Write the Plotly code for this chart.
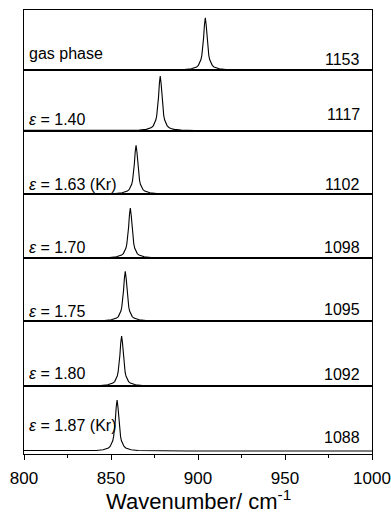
import plotly.graph_objects as go

# ---- data ----
PEAK_CENTRES = [904.2, 878.3, 864.4, 861.1, 858.2, 856.1, 853.5]   # cm-1
PEAK_HEIGHTS = [0.87, 0.90, 0.77, 0.78, 0.79, 0.77, 0.785]          # fraction of panel
LEFT_LABELS = ["gas phase", "<i>ε</i> = 1.40", "<i>ε</i> = 1.63 (Kr)", "<i>ε</i> = 1.70",
               "<i>ε</i> = 1.75", "<i>ε</i> = 1.80", "<i>ε</i> = 1.87 (Kr)"]
RIGHT_LABELS = ["1153", "1117", "1102", "1098", "1095", "1092", "1088"]
# band profile (offset from centre in cm-1, relative intensity)
PROFILE_OFFSET = [-200, -40, -20, -12, -8, -6, -5, -4, -3, -2.5, -2, -1.5, -1, -0.5, 0,
                  0.5, 1, 1.5, 2, 2.5, 3, 4, 5, 6, 8, 12, 20, 40, 200]
PROFILE_SHAPE = [0.0, 0.001, 0.004, 0.011, 0.024, 0.042, 0.059, 0.089, 0.148, 0.20, 0.281,
                 0.41, 0.61, 0.862, 1.0, 0.862, 0.61, 0.41, 0.281, 0.20, 0.148, 0.089,
                 0.059, 0.042, 0.024, 0.011, 0.004, 0.001, 0.0]
X_TICKS = [800, 850, 900, 950, 1000]

# ---- layout constants (pixels) ----
W, H = 391, 514
ML, MR, MT, MB = 24, 19, 10, 60
PLOT_H = H - MT - MB
PLOT_W = W - ML - MR
PANEL_EDGES = [10, 70, 130.7, 194, 258, 321, 386, 454]
LEFT_Y = [54, 119.3, 184.3, 247, 311, 373.3, 425]
RIGHT_Y = [59.3, 114.3, 184.3, 247.3, 309.3, 374.3, 437.3]
FONT = "Arial, Liberation Sans, Helvetica, sans-serif"


def py(pix):
    return (H - MB - pix) / PLOT_H


def px(pix):
    return (pix - ML) / PLOT_W


n = len(PEAK_CENTRES)
fig = go.Figure()
layout = dict(
    width=W, height=H, autosize=False,
    margin=dict(l=ML, r=MR, t=MT, b=MB, autoexpand=False),
    paper_bgcolor="white", plot_bgcolor="white",
    showlegend=False,
    font=dict(family=FONT, color="black", size=16),
)

for i in range(n):
    xs = [PEAK_CENTRES[i] + o for o in PROFILE_OFFSET]
    ys = [PEAK_HEIGHTS[i] * s for s in PROFILE_SHAPE]
    xn = "x" if i == 0 else f"x{i+1}"
    yn = "y" if i == 0 else f"y{i+1}"
    fig.add_trace(go.Scatter(x=xs, y=ys, mode="lines", xaxis=xn, yaxis=yn,
                             line=dict(color="black", width=1.1), hoverinfo="skip"))
    xkey = "xaxis" if i == 0 else f"xaxis{i+1}"
    ykey = "yaxis" if i == 0 else f"yaxis{i+1}"
    bottom = (i == n - 1)
    xa = dict(domain=[0, 1], range=[800, 1000], anchor=yn, automargin=False,
              showline=True, mirror=True, linecolor="black", linewidth=1.2,
              showgrid=False, zeroline=False, fixedrange=True)
    if bottom:
        xa.update(ticks="outside", tickvals=X_TICKS, ticklen=5, tickwidth=1.2,
                  tickcolor="black", showticklabels=True, ticklabeloverflow="allow",
                  ticklabelstandoff=3,
                  tickfont=dict(size=17, family=FONT, color="black"),
                  minor=dict(ticks="outside", ticklen=3, tickwidth=1,
                             tickcolor="black", tickvals=[825, 875, 925, 975]))
    else:
        xa.update(ticks="", showticklabels=False)
    layout[xkey] = xa
    ylow = 0.0 if not bottom else -0.046
    layout[ykey] = dict(domain=[py(PANEL_EDGES[i + 1]), py(PANEL_EDGES[i])],
                        range=[ylow, 1.0], anchor=xn, automargin=False,
                        showline=True, mirror=True, linecolor="black", linewidth=1.2,
                        showgrid=False, zeroline=False, ticks="",
                        showticklabels=False, fixedrange=True)

ann = []
for i in range(n):
    ann.append(dict(text=LEFT_LABELS[i], xref="paper", yref="paper",
                    x=px(26.5), y=py(LEFT_Y[i]), xanchor="left", yanchor="middle",
                    showarrow=False, font=dict(size=16, family=FONT, color="black")))
    ann.append(dict(text=RIGHT_LABELS[i], xref="paper", yref="paper",
                    x=px(362), y=py(RIGHT_Y[i]), xanchor="right", yanchor="middle",
                    showarrow=False, font=dict(size=16, family=FONT, color="black")))
ann.append(dict(text="Wavenumber/ cm<sup>-1</sup>", xref="paper", yref="paper",
                x=0.5, y=py(500), xanchor="center", yanchor="middle",
                showarrow=False, font=dict(size=22, family=FONT, color="black")))
layout["annotations"] = ann

fig.update_layout(**layout)
fig.write_html(
    "out.html",
    config={"displayModeBar": False, "responsive": False},
    post_script=("document.documentElement.style.overflow='hidden';"
                 "document.body.style.overflow='hidden';"
                 "document.body.style.margin='0';"),
)
